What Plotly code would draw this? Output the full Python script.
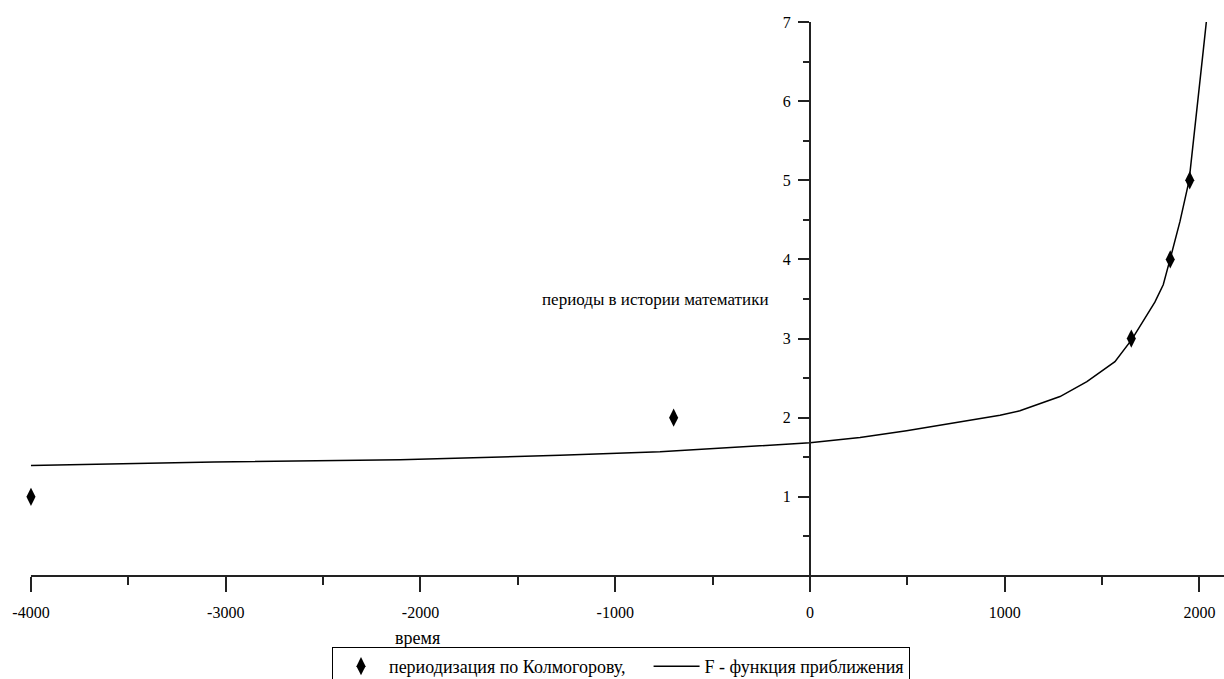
import plotly.graph_objects as go

# Data: periods in the history of mathematics (Kolmogorov) vs time
period_years = [-4000, -700, 1650, 1850, 1950]
period_index = [1, 2, 3, 4, 5]

# Approximating function F
curve_x = [-4000, -3060, -2105, -1284, -770, -308, 0, 257, 496, 976, 1078, 1284, 1422,
           1566, 1653, 1771, 1814, 1849, 1900, 1947, 1968, 1999, 2020, 2037]
curve_y = [1.397, 1.44, 1.47, 1.525, 1.57, 1.637, 1.683, 1.75, 1.835, 2.03, 2.087, 2.267, 2.456,
           2.709, 2.99, 3.46, 3.68, 4.0, 4.48, 5.0, 5.5, 6.2, 6.65, 7.04]

x_ticks = [-4000, -3000, -2000, -1000, 0, 1000, 2000]
x_tick_labels = ["-4000", "-3000", "-2000", "-1000", "0", "1000", "2000"]
x_minor = [-3500, -2500, -1500, -500, 500, 1500]
y_ticks = [1, 2, 3, 4, 5, 6, 7]
y_minor = [0.5, 1.5, 2.5, 3.5, 4.5, 5.5, 6.5]

W, H = 1224, 679
X_MIN, X_MAX = -4159, 2126
Y_MIN, Y_MAX = 0, 7
FONT = "Liberation Serif, Times New Roman, serif"
AX = "#222"
NB = "\u00a0"

fig = go.Figure()
fig.add_trace(go.Scatter(
    x=period_years, y=period_index, mode="markers",
    marker=dict(symbol="diamond-tall", size=13, color="black"),
    name="периодизация по Колмогорову," + NB * 4, cliponaxis=False,
))
fig.add_trace(go.Scatter(
    x=curve_x, y=curve_y, mode="lines", line=dict(color="black", width=1.5),
    name="F - функция приближения",
))

x0_paper = (-4000 - X_MIN) / (X_MAX - X_MIN)
y_axis_pos = (0 - X_MIN) / (X_MAX - X_MIN)

fig.add_shape(type="line", xref="paper", yref="paper", x0=x0_paper, x1=1, y0=0, y1=0,
              line=dict(color=AX, width=2))

fig.update_layout(
    width=W, height=H,
    margin=dict(l=0, r=0, t=22, b=102.5),
    paper_bgcolor="white", plot_bgcolor="white",
    font=dict(family=FONT, size=16, color="black"),
    showlegend=True,
    legend=dict(orientation="h", xref="container", yref="container",
                x=332 / W, xanchor="left", y=1 - 647 / H, yanchor="top",
                itemwidth=46,
                bordercolor="black", borderwidth=1, bgcolor="rgba(0,0,0,0)",
                font=dict(family=FONT, size=18, color="black")),
    xaxis=dict(range=[X_MIN, X_MAX], showgrid=False, zeroline=False, showline=False,
               tickmode="array", tickvals=x_ticks, ticktext=x_tick_labels,
               ticks="outside", ticklen=15, tickwidth=1.5, tickcolor=AX,
               ticklabelstandoff=7,
               minor=dict(tickmode="array", tickvals=x_minor, ticks="outside", ticklen=8,
                          tickwidth=1.5, tickcolor=AX),
               tickfont=dict(family=FONT, size=16, color="black")),
    yaxis=dict(range=[Y_MIN, Y_MAX], showgrid=False, zeroline=False,
               showline=True, linecolor=AX, linewidth=2,
               anchor="free", position=y_axis_pos, side="left",
               tickmode="array", tickvals=y_ticks,
               ticks="outside", ticklen=11, tickwidth=1.5, tickcolor=AX,
               ticklabelstandoff=4,
               minor=dict(tickmode="array", tickvals=y_minor, ticks="outside", ticklen=6,
                          tickwidth=1.5, tickcolor=AX),
               tickfont=dict(family=FONT, size=16, color="black")),
    annotations=[
        dict(text="периоды в истории математики", xref="paper", yref="y",
             x=771 / W, y=3.5, xanchor="right", yanchor="middle", showarrow=False,
             font=dict(family=FONT, size=17, color="black")),
        dict(text="время", xref="paper", yref="paper",
             x=417 / W, y=-(639 - 576.5) / 554.5, xanchor="center", yanchor="middle",
             showarrow=False, font=dict(family=FONT, size=18, color="black")),
    ],
)

fig.write_html("out.html", config={"displayModeBar": False},
               post_script="document.body.style.margin='0';document.body.style.overflow='hidden';")
